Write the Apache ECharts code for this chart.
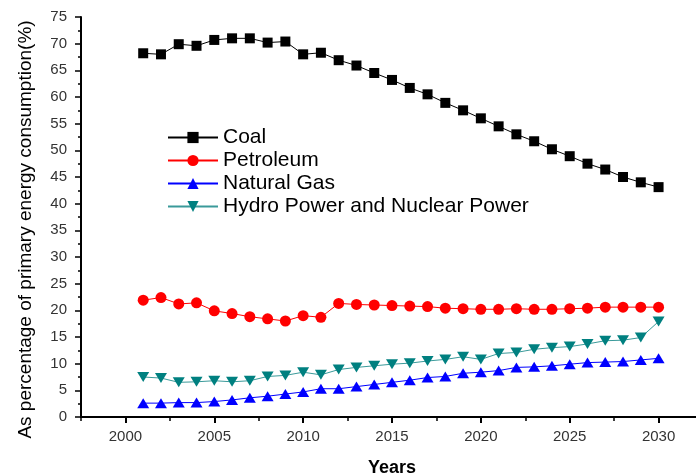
<!DOCTYPE html>
<html>
<head>
<meta charset="utf-8">
<script src="https://cdn.jsdelivr.net/npm/echarts@6/dist/echarts.min.js"></script>
<style>
html,body{margin:0;padding:0;background:#fff;}
#chart{width:696px;height:475px;}
</style>
</head>
<body>
<div id="chart"></div>
<script>
var years = [2001,2002,2003,2004,2005,2006,2007,2008,2009,2010,2011,2012,2013,2014,2015,2016,2017,2018,2019,2020,2021,2022,2023,2024,2025,2026,2027,2028,2029,2030];
var coal = [68.2,68.0,69.9,69.6,70.7,71.0,71.0,70.2,70.4,68.0,68.3,66.9,65.9,64.5,63.2,61.7,60.5,58.9,57.5,56.0,54.5,53.0,51.7,50.2,48.9,47.5,46.4,45.0,44.0,43.1];
var petroleum = [21.9,22.4,21.2,21.4,19.9,19.4,18.8,18.4,18.0,19.0,18.7,21.3,21.1,21.0,20.9,20.8,20.7,20.4,20.3,20.2,20.2,20.3,20.2,20.2,20.3,20.4,20.6,20.6,20.6,20.6];
var naturalGas = [2.6,2.6,2.7,2.7,2.9,3.2,3.6,3.9,4.3,4.7,5.3,5.3,5.7,6.1,6.5,6.9,7.4,7.6,8.2,8.4,8.7,9.3,9.4,9.6,9.9,10.2,10.3,10.4,10.7,11.0];
var hydroNuclear = [7.5,7.3,6.5,6.6,6.8,6.6,6.8,7.6,7.8,8.4,7.9,8.9,9.3,9.6,9.9,10.1,10.5,10.8,11.3,10.8,11.9,12.1,12.7,13.0,13.2,13.7,14.3,14.4,14.9,17.9];
var xMajorTicks = [2000,2005,2010,2015,2020,2025,2030];
var xMinorTicks = [1997.5,2002.5,2007.5,2012.5,2017.5,2022.5,2027.5,2032.5];
var seriesNames = ['Coal','Petroleum','Natural Gas','Hydro Power and Nuclear Power'];

function pairs(vals){ return years.map(function(y,i){ return [y, vals[i]]; }); }

var chart = echarts.init(document.getElementById('chart'), null, {renderer:'canvas'});
var FONT = 'Liberation Sans, Arial, sans-serif';
var gridBox = {left: 81, right: -7, top: 17, bottom: 58, outerBoundsMode: 'none', containLabel: false};
var option = {
  animation: false,
  backgroundColor: '#fff',
  grid: [Object.assign({}, gridBox), Object.assign({}, gridBox)],
  legend: {
    orient: 'vertical', left: 167, top: 127, padding: 0, itemWidth: 50, itemHeight: 14, itemGap: 2,
    data: seriesNames,
    textStyle: {fontFamily: FONT, fontSize: 21, color: '#000'}
  },
  xAxis: [{
    gridIndex: 0, type: 'value', min: 1997.5, max: 2032.5, position: 'bottom',
    splitLine: {show: false},
    axisLine: {show: true, onZero: false, lineStyle: {color: '#000', width: 2}},
    axisTick: {show: true, inside: false, length: 6, customValues: xMajorTicks, lineStyle: {color: '#000', width: 2}},
    axisLabel: {show: true, customValues: xMajorTicks, margin: 12, fontFamily: FONT, fontSize: 15, color: '#333',
      formatter: function(v){ return String(v); }},
    name: 'Years', nameLocation: 'middle', nameGap: 42,
    nameTextStyle: {fontFamily: FONT, fontSize: 18, fontWeight: 'bold', color: '#000'}
  },{
    gridIndex: 1, type: 'value', min: 1997.5, max: 2032.5, position: 'bottom',
    splitLine: {show: false},
    axisLine: {show: true, onZero: false, lineStyle: {color: 'rgba(0,0,0,0)', width: 1}},
    axisTick: {show: true, inside: false, length: 4, customValues: xMinorTicks, lineStyle: {color: '#000', width: 1.5}},
    axisLabel: {show: false, customValues: xMinorTicks}
  }],
  yAxis: [{
    gridIndex: 0, type: 'value', min: 0, max: 75, interval: 5,
    splitLine: {show: false},
    axisLine: {show: true, onZero: false, lineStyle: {color: '#000', width: 2}},
    axisTick: {show: true, inside: false, length: 6, lineStyle: {color: '#000', width: 1.5}},
    minorTick: {show: true, splitNumber: 2, length: 3, lineStyle: {color: '#000', width: 1.5}},
    axisLabel: {margin: 14, fontFamily: FONT, fontSize: 15, color: '#333'},
    name: 'As percentage of primary energy consumption(%)', nameLocation: 'middle', nameGap: 46,
    nameTextStyle: {fontFamily: FONT, fontSize: 19, color: '#000', padding: [0,25,0,0]}
  },{
    gridIndex: 1, type: 'value', min: 0, max: 75, show: false
  }],
  series: [
    {name: 'Coal', type: 'line', data: pairs(coal), symbol: 'rect', symbolSize: 10,
     itemStyle: {color: '#000'}, lineStyle: {color: '#000', width: 1}},
    {name: 'Petroleum', type: 'line', data: pairs(petroleum), symbol: 'circle', symbolSize: 11,
     itemStyle: {color: '#ff0000'}, lineStyle: {color: '#ff0000', width: 1}},
    {name: 'Natural Gas', type: 'line', data: pairs(naturalGas), symbol: 'triangle', symbolSize: [12,10],
     itemStyle: {color: '#0000ff'}, lineStyle: {color: '#0000ff', width: 1}},
    {name: 'Hydro Power and Nuclear Power', type: 'line', data: pairs(hydroNuclear), symbol: 'triangle', symbolRotate: 180, symbolSize: [12,10],
     itemStyle: {color: '#008080'}, lineStyle: {color: '#3a9a9a', width: 1}}
  ]
};
chart.setOption(option);
</script>
</body>
</html>
